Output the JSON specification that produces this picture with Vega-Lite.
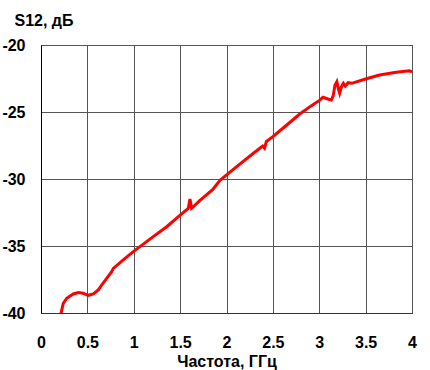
{
  "$schema": "https://vega.github.io/schema/vega-lite/v6.json",
  "autosize": "none",
  "width": 371,
  "height": 268,
  "padding": {"left": 41, "top": 45, "right": 18, "bottom": 57},
  "background": "white",
  "config": {
    "font": "Liberation Sans",
    "view": {"stroke": "#333333", "strokeWidth": 1}
  },
  "data": {"values": [
    {"f": 0.205, "s": -40.3},
    {"f": 0.216, "s": -40.02},
    {"f": 0.24, "s": -39.28},
    {"f": 0.277, "s": -38.9},
    {"f": 0.348, "s": -38.58},
    {"f": 0.402, "s": -38.48},
    {"f": 0.456, "s": -38.53},
    {"f": 0.51, "s": -38.68},
    {"f": 0.564, "s": -38.58},
    {"f": 0.618, "s": -38.28},
    {"f": 0.654, "s": -37.91},
    {"f": 0.708, "s": -37.41},
    {"f": 0.762, "s": -36.92},
    {"f": 0.78, "s": -36.67},
    {"f": 0.887, "s": -36.04},
    {"f": 0.995, "s": -35.42},
    {"f": 1.067, "s": -35.05},
    {"f": 1.21, "s": -34.3},
    {"f": 1.355, "s": -33.56},
    {"f": 1.5, "s": -32.69},
    {"f": 1.588, "s": -32.19},
    {"f": 1.606, "s": -31.5},
    {"f": 1.624, "s": -32.19},
    {"f": 1.714, "s": -31.6},
    {"f": 1.85, "s": -30.8},
    {"f": 1.93, "s": -30.1},
    {"f": 2.11, "s": -29.08},
    {"f": 2.29, "s": -28.08},
    {"f": 2.39, "s": -27.54},
    {"f": 2.41, "s": -27.7},
    {"f": 2.43, "s": -27.2},
    {"f": 2.5, "s": -26.84},
    {"f": 2.65, "s": -25.97},
    {"f": 2.79, "s": -25.15},
    {"f": 2.9, "s": -24.6},
    {"f": 3.01, "s": -24.1},
    {"f": 3.04, "s": -23.9},
    {"f": 3.1, "s": -24.05},
    {"f": 3.13, "s": -24.1},
    {"f": 3.15, "s": -23.8},
    {"f": 3.17, "s": -22.99},
    {"f": 3.19, "s": -22.74},
    {"f": 3.21, "s": -23.36},
    {"f": 3.22, "s": -23.6},
    {"f": 3.24, "s": -23.1},
    {"f": 3.26, "s": -22.86},
    {"f": 3.28, "s": -23.06},
    {"f": 3.3, "s": -22.91},
    {"f": 3.31, "s": -22.81},
    {"f": 3.35, "s": -22.86},
    {"f": 3.49, "s": -22.56},
    {"f": 3.65, "s": -22.24},
    {"f": 3.83, "s": -22.04},
    {"f": 3.97, "s": -21.92},
    {"f": 4.0, "s": -22.0}
  ]},
  "mark": {"type": "line", "color": "#ff0000", "strokeWidth": 3, "clip": true},
  "encoding": {
    "x": {
      "field": "f", "type": "quantitative",
      "scale": {"domain": [0, 4], "nice": false, "zero": false},
      "axis": {
        "values": [0, 0.5, 1, 1.5, 2, 2.5, 3, 3.5, 4],
        "labelExpr": "'' + datum.value",
        "title": "Частота, ГГц",
        "titleFontSize": 16, "titleFontWeight": "bold", "titleColor": "#000",
        "titleBaseline": "alphabetic", "titleY": 53,
        "labelFontSize": 16, "labelFontWeight": "bold", "labelColor": "#000",
        "labelPadding": 21, "labelFlush": false,
        "ticks": false, "domainColor": "#333333",
        "gridColor": "#555555", "gridOpacity": 1, "gridWidth": 1
      }
    },
    "y": {
      "field": "s", "type": "quantitative",
      "scale": {"domain": [-40, -20], "nice": false, "zero": false},
      "axis": {
        "values": [-40, -35, -30, -25, -20],
        "labelExpr": "'' + datum.value",
        "title": "S12, дБ",
        "titleAngle": 0, "titleAlign": "left", "titleBaseline": "alphabetic",
        "titleX": -27, "titleY": -20,
        "titleFontSize": 16, "titleFontWeight": "bold", "titleColor": "#000",
        "labelFontSize": 16, "labelFontWeight": "bold", "labelColor": "#000",
        "labelPadding": 16, "labelFlush": false,
        "ticks": false, "domainColor": "#000000",
        "gridColor": "#555555", "gridOpacity": 1, "gridWidth": 1
      }
    }
  }
}
